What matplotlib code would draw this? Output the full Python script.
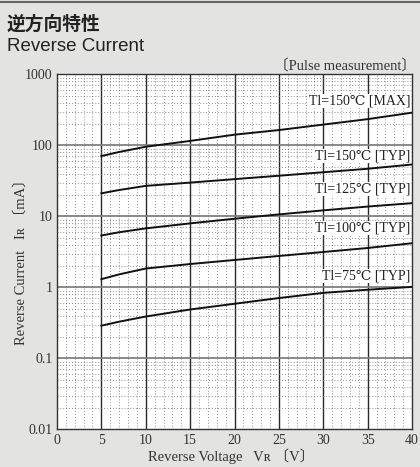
import numpy as np
import matplotlib
matplotlib.use('Agg')
import matplotlib.pyplot as plt
from matplotlib.lines import Line2D
from matplotlib.ticker import FixedLocator, NullFormatter

# values
voltage = [5, 7, 10, 15, 20, 25, 30, 35, 40]
ir_150_max = [71, 81, 96, 116, 142, 165, 197, 235, 290]
ir_150_typ = [21.2, 23.6, 27, 30, 33.6, 37.5, 42, 47, 54]
ir_125_typ = [5.4, 6.0, 6.8, 8.0, 9.3, 10.7, 12.2, 13.8, 15.4]
ir_100_typ = [1.31, 1.53, 1.85, 2.14, 2.44, 2.78, 3.16, 3.6, 4.2]
ir_75_typ = [0.29, 0.33, 0.39, 0.49, 0.59, 0.71, 0.84, 0.93, 1.02]

curves = [ir_150_max, ir_150_typ, ir_125_typ, ir_100_typ, ir_75_typ]
labels = ['Tl=150℃ [MAX]', 'Tl=150℃ [TYP]', 'Tl=125℃ [TYP]',
          'Tl=100℃ [TYP]', 'Tl=75℃ [TYP]']
label_y = [424, 71, 24.4, 6.9, 1.45]

x_ticks = [0, 5, 10, 15, 20, 25, 30, 35, 40]
y_ticks = [0.01, 0.1, 1, 10, 100, 1000]
y_ticklabels = ['0.01', '0.1', '1', '10', '100', '1000']

serif = ['Liberation Serif', 'DejaVu Serif', 'Noto Sans CJK JP']

fig = plt.figure(figsize=(4.2, 4.67), dpi=100, facecolor='#e3e3e1')
ax = fig.add_axes([0.1357, 0.0803, 0.8453, 0.7602])
ax.set_facecolor('white')

ax.set_yscale('log')
ax.set_xlim(0, 40)
ax.set_ylim(0.01, 1000)

# grid: dotted minors, solid majors
minor_x = [v for v in range(0, 41) if v % 5 != 0]
ax.xaxis.set_minor_locator(FixedLocator(minor_x))
minor_y = [m * 10.0 ** e for e in range(-2, 3) for m in range(2, 10)]
ax.yaxis.set_minor_locator(FixedLocator(minor_y))
ax.yaxis.set_minor_formatter(NullFormatter())
ax.grid(which='minor', linestyle=(0, (1, 2.5)), linewidth=0.6, color='#6a6a6a')
for xv in x_ticks[1:-1]:
    ax.axvline(xv, color='#2a2a2a', linewidth=1.0, zorder=1)
for yv in y_ticks[1:-1]:
    ax.axhline(yv, color='#808080', linewidth=1.3, zorder=1)

for ir in curves:
    ax.plot(voltage, ir, color='#111111', linewidth=1.4, zorder=3)

for lab, yv in zip(labels, label_y):
    ax.text(39.8, yv, lab, ha='right', va='center', fontsize=10,
            family=serif, color='#222222', zorder=4,
            bbox=dict(facecolor='white', edgecolor='none', pad=0.5))

ax.set_xticks(x_ticks)
ax.set_xticklabels([str(v) for v in x_ticks])
ax.set_yticks(y_ticks)
ax.set_yticklabels(y_ticklabels)
ax.tick_params(which='both', length=0, pad=3, labelsize=10, labelcolor='#333333')
for t in ax.get_xticklabels() + ax.get_yticklabels():
    t.set_family(serif)

for s in ax.spines.values():
    s.set_color('#333333')
    s.set_linewidth(1.0)

fig.text(0.352, 0.022, 'Reverse Voltage   Vʀ 〔V〕', ha='left', va='center',
         fontsize=10.5, family=serif, color='#333333')
fig.text(0.05, 0.261, 'Reverse Current   Iʀ 〔mA〕', ha='center', va='bottom',
         rotation=90, fontsize=10.5, family=serif, color='#333333')
fig.text(0.99, 0.859, '〔Pulse measurement〕', ha='right', va='center',
         fontsize=10.5, family=serif, color='#333333')

fig.text(0.016, 0.949, '逆方向特性', ha='left', va='center', fontsize=13.5,
         fontweight='bold', family=['Noto Sans CJK JP'], color='#222222')
fig.text(0.016, 0.901, 'Reverse Current', ha='left', va='center', fontsize=13.5,
         family=['Liberation Sans'], color='#222222')

fig.add_artist(Line2D([0, 1], [0.996, 0.996], color='#666666', linewidth=1.5))

fig.savefig('out.png', dpi=100, facecolor=fig.get_facecolor())
